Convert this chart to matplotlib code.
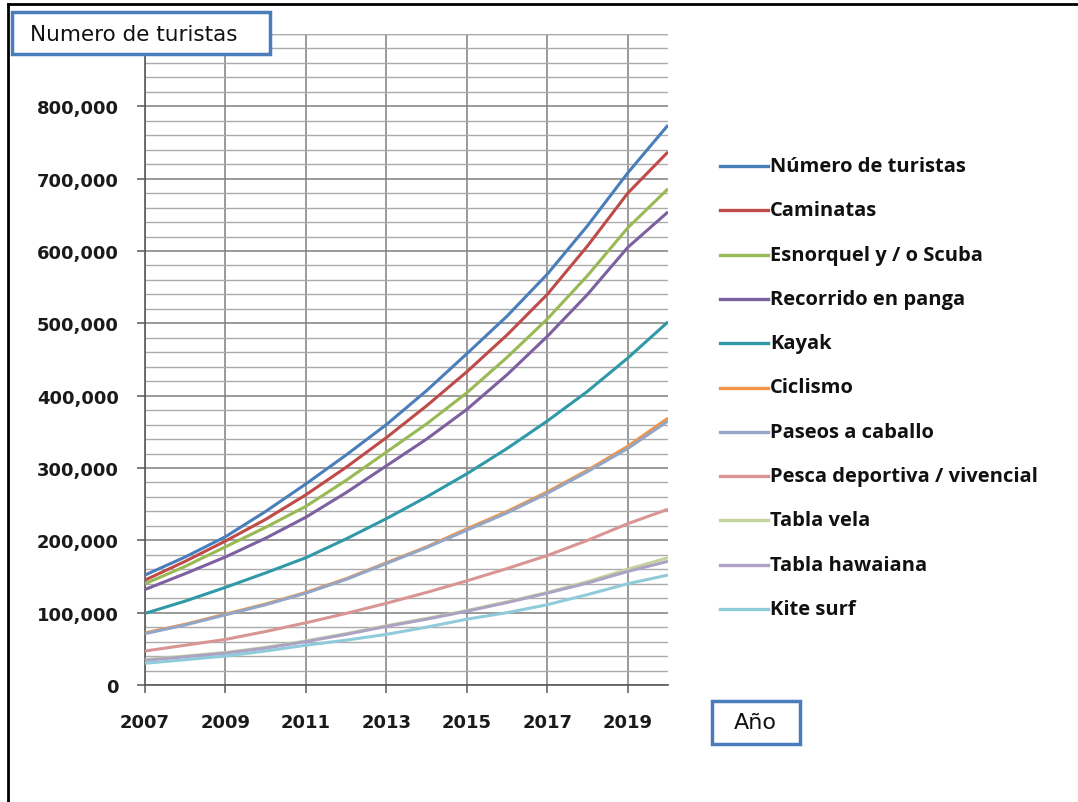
import matplotlib
matplotlib.use("Agg")
import matplotlib.pyplot as plt
from matplotlib.lines import Line2D
from matplotlib.patches import Rectangle
from matplotlib.ticker import MultipleLocator, FuncFormatter

years = list(range(2007, 2021))

series_names = [
    "Número de turistas", "Caminatas", "Esnorquel y / o Scuba",
    "Recorrido en panga", "Kayak", "Ciclismo", "Paseos a caballo",
    "Pesca deportiva / vivencial", "Tabla vela", "Tabla hawaiana", "Kite surf",
]

turistas = [152, 177, 205, 240, 278, 318, 360, 407, 458, 510, 568, 635, 708, 774]
caminatas = [145, 171, 199, 229, 263, 301, 342, 386, 433, 484, 540, 607, 680, 737]
esnorquel = [140, 164, 191, 218, 247, 283, 322, 361, 404, 453, 506, 566, 632, 686]
panga = [132, 154, 177, 203, 232, 266, 303, 340, 381, 429, 482, 540, 605, 654]
kayak = [99, 116, 135, 155, 176, 202, 230, 260, 292, 327, 365, 406, 452, 502]
ciclismo = [72, 84, 98, 112, 128, 147, 169, 191, 216, 240, 267, 297, 330, 369]
caballo = [71, 83, 97, 111, 127, 146, 168, 190, 214, 238, 265, 295, 327, 365]
pesca = [47, 55, 63, 74, 86, 99, 113, 128, 144, 161, 179, 200, 223, 243]
tabla_vela = [35, 40, 45, 52, 61, 71, 82, 92, 103, 115, 128, 143, 160, 176]
tabla_hawaiana = [34, 39, 44, 51, 60, 70, 81, 91, 102, 114, 127, 141, 157, 171]
kite_surf = [30, 35, 40, 47, 55, 62, 70, 80, 91, 100, 111, 125, 140, 152]

series_values = [turistas, caminatas, esnorquel, panga, kayak, ciclismo,
                 caballo, pesca, tabla_vela, tabla_hawaiana, kite_surf]

colors = ["#4a7ebb", "#be4b48", "#98b954", "#7d60a0", "#3099a8", "#f39447",
          "#93a6c6", "#d99593", "#c3d59c", "#aea2c4", "#90cbdb"]

fig = plt.figure(figsize=(10.78, 8.03), dpi=100)
W, H = 1078, 803


def fx(px):
    return px / W


def fy(py):
    return 1 - py / H


ax = fig.add_axes([fx(145), fy(686), fx(668) - fx(145), fy(35) - fy(686)])

for vals, col in zip(series_values, colors):
    ax.plot(years, [v * 1000 for v in vals], color=col, linewidth=2.2,
            solid_capstyle="butt", zorder=3)

ax.set_xlim(2007, 2020)
ax.set_ylim(0, 900000)
ax.set_xticks(range(2007, 2020, 2))
ax.set_yticks(range(0, 900000, 100000))
ax.yaxis.set_major_formatter(FuncFormatter(lambda v, p: f"{int(v):,}"))
ax.yaxis.set_minor_locator(MultipleLocator(20000))

ax.grid(axis="y", which="minor", color="#ababab", linewidth=1.0, zorder=1)
ax.grid(axis="y", which="major", color="#7f7f7f", linewidth=1.1, zorder=1)
ax.grid(axis="x", which="major", color="#7f7f7f", linewidth=1.1, zorder=1)
ax.axhline(900000, color="#ababab", linewidth=1.0, zorder=1)

for s in ["top", "right"]:
    ax.spines[s].set_visible(False)
for s in ["left", "bottom"]:
    ax.spines[s].set_color("#595959")
    ax.spines[s].set_linewidth(1.2)

ax.tick_params(axis="y", which="major", length=6, width=1.1, color="#595959",
               pad=13, labelsize=13)
ax.tick_params(axis="y", which="minor", length=0)
ax.tick_params(axis="x", length=6, width=1.1, color="#595959", pad=14,
               labelsize=13)
for lab in ax.get_xticklabels() + ax.get_yticklabels():
    lab.set_fontweight("bold")
    lab.set_color("#1a1a1a")

# legend drawn by hand to follow the original spacing
leg_top, leg_step = 167, 44.3
for i, (name, col) in enumerate(zip(series_names, colors)):
    y = fy(leg_top + i * leg_step)
    fig.add_artist(Line2D([fx(720), fx(768)], [y, y], color=col, linewidth=2.4,
                          transform=fig.transFigure))
    fig.text(fx(770), y, name, fontsize=14.5, fontweight="bold",
             family="Open Sans", va="center", ha="left", color="#111111")

# axis title boxes
fig.add_artist(Rectangle((fx(12), fy(55)), fx(270) - fx(12), fy(13) - fy(55),
                         transform=fig.transFigure, facecolor="white",
                         edgecolor="#4a7ebb", linewidth=2.5, zorder=5))
fig.text(fx(30), fy(35), "Numero de turistas", fontsize=15.5, va="center",
         ha="left", color="#111111", zorder=6)

fig.add_artist(Rectangle((fx(712), fy(745)), fx(800) - fx(712), fy(702) - fy(745),
                         transform=fig.transFigure, facecolor="white",
                         edgecolor="#4a7ebb", linewidth=2.5, zorder=5))
fig.text(fx(755), fy(723), "Año", fontsize=16, va="center", ha="center",
         color="#111111", zorder=6)

# outer frame
fig.add_artist(Line2D([fx(8), fx(1078)], [fy(5), fy(5)], color="black",
                      linewidth=2, transform=fig.transFigure))
fig.add_artist(Line2D([fx(8), fx(8)], [fy(5), fy(803)], color="black",
                      linewidth=2, transform=fig.transFigure))

fig.savefig("out.png", dpi=100)
